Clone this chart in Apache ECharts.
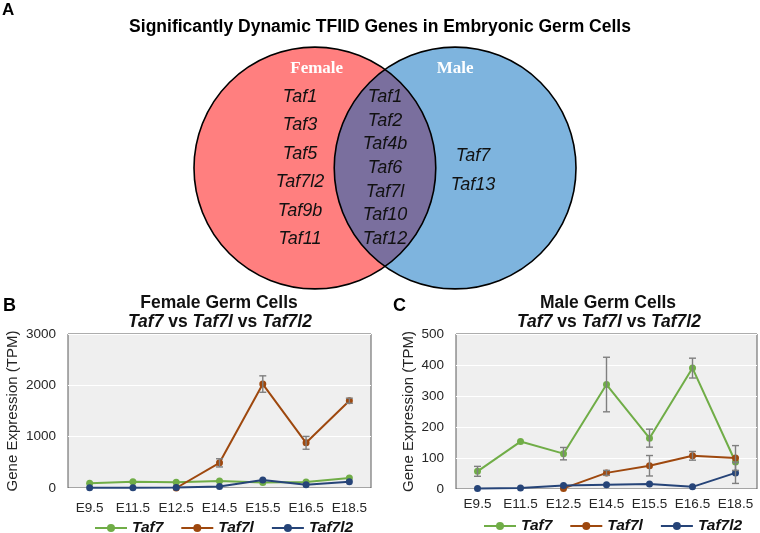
<!DOCTYPE html>
<html>
<head>
<meta charset="utf-8">
<script src="https://cdn.jsdelivr.net/npm/echarts@6/dist/echarts.min.js"></script>
<style>
html,body{margin:0;padding:0;background:#fff;}
#chart{width:760px;height:533px;}
</style>
</head>
<body>
<div id="chart"></div>
<script>
// ---------- DATA ----------
const vennTitle = 'Significantly Dynamic TFIID Genes in Embryonic Germ Cells';
const setNames = ['Female', 'Male'];
const femaleOnlyGenes = ['Taf1', 'Taf3', 'Taf5', 'Taf7l2', 'Taf9b', 'Taf11'];
const sharedGenes = ['Taf1', 'Taf2', 'Taf4b', 'Taf6', 'Taf7l', 'Taf10', 'Taf12'];
const maleOnlyGenes = ['Taf7', 'Taf13'];

const timepoints = ['E9.5', 'E11.5', 'E12.5', 'E14.5', 'E15.5', 'E16.5', 'E18.5'];
const geneNames = ['Taf7', 'Taf7l', 'Taf7l2'];

const femaleTaf7 = [92, 123, 111, 136, 105, 117, 195];
const femaleTaf7l = [null, null, 0, 490, 2025, 880, 1700];
const femaleTaf7l2 = [6, 6, 12, 30, 156, 65, 123];
const femaleTaf7Err = [null, null, null, null, null, null, null];
const femaleTaf7lErr = [null, null, null, 80, 160, 125, 50];
const femaleTaf7l2Err = [null, null, null, null, null, null, null];

const maleTaf7 = [57, 153, 114, 337, 164, 390, 87];
const maleTaf7l = [null, null, 2, 52, 75, 107, 100];
const maleTaf7l2 = [2, 3, 11, 14, 16, 7, 52];
const maleTaf7Err = [16, null, 20, 88, 29, 32, null];
const maleTaf7lErr = [null, null, null, 8, 33, 14, 40];
const maleTaf7l2Err = [null, null, null, null, null, null, 34];

const femaleYTicks = [0, 1000, 2000, 3000];
const maleYTicks = [0, 100, 200, 300, 400, 500];

// ---------- STYLE / LAYOUT ----------
const FONT = '"Liberation Sans", Arial, sans-serif';
const SERIF = '"Liberation Serif", "Times New Roman", serif';
const lineColors = ['#70AD47', '#9E480E', '#264478'];
const vennFill = ['#FF7F7F', '#7EB4DE'];
const lensFill = '#7A6F9E';
const halfSep = 0.58; // circle centre offset in radius units
const txtDark = '#262626';

const chart = echarts.init(document.getElementById('chart'), null, {renderer: 'canvas'});

function errData(vals, errs) {
  const out = [];
  vals.forEach((v, i) => { if (errs[i] != null && v != null) out.push([i, v, errs[i]]); });
  return out;
}
function errRender(params, api) {
  const x = api.value(0), v = api.value(1), e = api.value(2);
  const t = api.coord([x, v + e]);
  const b = api.coord([x, v - e]);
  const hw = 3.5;
  const st = {stroke: '#7F7F7F', lineWidth: 1.4};
  return {type: 'group', children: [
    {type: 'line', shape: {x1: t[0], y1: t[1], x2: b[0], y2: b[1]}, style: st},
    {type: 'line', shape: {x1: t[0] - hw, y1: t[1], x2: t[0] + hw, y2: t[1]}, style: st},
    {type: 'line', shape: {x1: b[0] - hw, y1: b[1], x2: b[0] + hw, y2: b[1]}, style: st}
  ]};
}
function lineSeries(name, idx, data, gi) {
  return {
    type: 'line', name: name, data: data, xAxisIndex: gi, yAxisIndex: gi,
    symbol: 'circle', symbolSize: 7, showAllSymbol: true,
    lineStyle: {color: lineColors[idx], width: 2},
    itemStyle: {color: lineColors[idx]},
    z: 3 + idx, animation: false
  };
}
function errSeries(vals, errs, gi) {
  return {
    type: 'custom', xAxisIndex: gi, yAxisIndex: gi, renderItem: errRender,
    data: errData(vals, errs), encode: {x: 0, y: 1}, z: 10, animation: false, silent: true
  };
}

// Venn label points
function rowsFor(list, x, spacing, offset) {
  const n = list.length;
  return list.map((g, i) => ({x: x, y: offset + (n - 1) / 2 * spacing - i * spacing, text: g}));
}
const vennLabels = [].concat(
  rowsFor(femaleOnlyGenes, -0.703, 0.235, 0),
  rowsFor(sharedGenes, 0.0, 0.196, 0),
  rowsFor(maleOnlyGenes, 0.728, 0.24, -0.02)
);
const setLabelPos = [[-0.565, 0.82], [0.58, 0.82]];

const axisBase = (gi, margin) => ({
  gridIndex: gi, type: 'category', data: timepoints,
  axisLine: {show: false}, axisTick: {show: false},
  axisLabel: {color: txtDark, fontSize: 13.5, fontFamily: FONT, margin: margin, interval: 0}
});
const yBase = (gi, ticks) => ({
  gridIndex: gi, type: 'value', min: ticks[0], max: ticks[ticks.length - 1],
  interval: ticks[1] - ticks[0],
  name: 'Gene Expression (TPM)', nameLocation: 'middle', nameRotate: 90,
  nameTextStyle: {fontSize: 15, fontFamily: FONT, color: txtDark},
  axisLine: {show: false}, axisTick: {show: false},
  splitLine: {lineStyle: {color: '#FFFFFF', width: 1.2}},
  axisLabel: {color: txtDark, fontSize: 13.5, fontFamily: FONT, margin: 12, formatter: v => String(v)}
});

const subRich = {
  i: {fontSize: 17.5, fontWeight: 'bold', fontStyle: 'italic', fontFamily: FONT, fill: '#111'},
  n: {fontSize: 17.5, fontWeight: 'bold', fontFamily: FONT, fill: '#111'}
};
const subText = '{i|' + geneNames[0] + '}{n| vs }{i|' + geneNames[1] + '}{n| vs }{i|' + geneNames[2] + '}';
const legendText = {fontSize: 15.5, fontWeight: 'bold', fontStyle: 'italic', fontFamily: FONT, color: '#111'};

const option = {
  animation: false,
  grid: [
    {left: 194, top: 47, width: 382, height: 242, show: false},
    {left: 68, top: 334, width: 303, height: 154, show: true, backgroundColor: '#EFEFEF', borderColor: '#5A5A5A', borderWidth: 1},
    {left: 456, top: 334, width: 301, height: 155, show: true, backgroundColor: '#EFEFEF', borderColor: '#5A5A5A', borderWidth: 1}
  ],
  xAxis: [
    {gridIndex: 0, type: 'value', min: -1.58, max: 1.58, show: false},
    axisBase(1, 13), axisBase(2, 8)
  ],
  yAxis: [
    {gridIndex: 0, type: 'value', min: -1, max: 1, show: false},
    Object.assign(yBase(1, femaleYTicks), {nameGap: 48}),
    Object.assign(yBase(2, maleYTicks), {nameGap: 40})
  ],
  legend: [
    {data: geneNames, left: 94, top: 520, padding: 0, itemWidth: 32, itemHeight: 10, itemGap: 17, textStyle: legendText},
    {data: geneNames, left: 483, top: 518, padding: 0, itemWidth: 32, itemHeight: 10, itemGap: 17, textStyle: legendText}
  ],
  graphic: [
    {type: 'text', x: 2, y: 10, style: {text: 'A', font: 'bold 17px ' + FONT, fill: '#000', textVerticalAlign: 'middle'}},
    {type: 'text', x: 380, y: 27, style: {text: vennTitle, font: 'bold 17.5px ' + FONT, fill: '#000', textAlign: 'center', textVerticalAlign: 'middle'}},
    {type: 'text', x: 3, y: 306, style: {text: 'B', font: 'bold 18px ' + FONT, fill: '#000', textVerticalAlign: 'middle'}},
    {type: 'text', x: 393, y: 306, style: {text: 'C', font: 'bold 18px ' + FONT, fill: '#000', textVerticalAlign: 'middle'}},
    {type: 'text', x: 219, y: 303, style: {text: 'Female Germ Cells', font: 'bold 17.5px ' + FONT, fill: '#111', textAlign: 'center', textVerticalAlign: 'middle'}},
    {type: 'text', x: 220, y: 322, style: {text: subText, rich: subRich, textAlign: 'center', textVerticalAlign: 'middle'}},
    {type: 'text', x: 608, y: 303, style: {text: 'Male Germ Cells', font: 'bold 17.5px ' + FONT, fill: '#111', textAlign: 'center', textVerticalAlign: 'middle'}},
    {type: 'text', x: 609, y: 322, style: {text: subText, rich: subRich, textAlign: 'center', textVerticalAlign: 'middle'}}
  ],
  series: [
    // Venn fills
    {type: 'custom', xAxisIndex: 0, yAxisIndex: 0, z: 1, silent: true,
     data: [[-halfSep, 0], [halfSep, 0]],
     renderItem: function (params, api) {
       const c = api.coord([api.value(0), api.value(1)]);
       const r = api.size([1, 0])[0];
       return {type: 'circle', shape: {cx: c[0], cy: c[1], r: r}, style: {fill: vennFill[params.dataIndex], stroke: null}};
     }},
    // Lens (intersection)
    {type: 'custom', xAxisIndex: 0, yAxisIndex: 0, z: 2, silent: true,
     data: [[0, 0]],
     renderItem: function (params, api) {
       const h = Math.sqrt(1 - halfSep * halfSep);
       const p1 = api.coord([0, h]);
       const p2 = api.coord([0, -h]);
       const r = api.size([1, 0])[0];
       const d = 'M' + p1[0] + ' ' + p1[1] + ' A' + r + ' ' + r + ' 0 0 1 ' + p2[0] + ' ' + p2[1] +
                 ' A' + r + ' ' + r + ' 0 0 1 ' + p1[0] + ' ' + p1[1] + ' Z';
       return {type: 'path', shape: {pathData: d}, style: {fill: lensFill, stroke: null}};
     }},
    // Venn outlines
    {type: 'custom', xAxisIndex: 0, yAxisIndex: 0, z: 3, silent: true,
     data: [[-halfSep, 0], [halfSep, 0]],
     renderItem: function (params, api) {
       const c = api.coord([api.value(0), api.value(1)]);
       const r = api.size([1, 0])[0];
       return {type: 'circle', shape: {cx: c[0], cy: c[1], r: r}, style: {fill: null, stroke: '#000', lineWidth: 1.6}};
     }},
    // Set names
    {type: 'custom', xAxisIndex: 0, yAxisIndex: 0, z: 4, silent: true,
     data: setLabelPos,
     renderItem: function (params, api) {
       const c = api.coord([api.value(0), api.value(1)]);
       return {type: 'text', x: c[0], y: c[1], style: {text: setNames[params.dataIndex], font: 'bold 17px ' + SERIF, fill: '#FFFFFF', textAlign: 'center', textVerticalAlign: 'middle'}};
     }},
    // Gene names
    {type: 'custom', xAxisIndex: 0, yAxisIndex: 0, z: 4, silent: true,
     data: vennLabels.map(d => [d.x, d.y]),
     renderItem: function (params, api) {
       const c = api.coord([api.value(0), api.value(1)]);
       return {type: 'text', x: c[0], y: c[1], style: {text: vennLabels[params.dataIndex].text, font: 'italic 18px ' + FONT, fill: '#111', textAlign: 'center', textVerticalAlign: 'middle'}};
     }},
    // Female
    lineSeries(geneNames[0], 0, femaleTaf7, 1),
    lineSeries(geneNames[1], 1, femaleTaf7l, 1),
    lineSeries(geneNames[2], 2, femaleTaf7l2, 1),
    errSeries(femaleTaf7, femaleTaf7Err, 1),
    errSeries(femaleTaf7l, femaleTaf7lErr, 1),
    errSeries(femaleTaf7l2, femaleTaf7l2Err, 1),
    // Male
    lineSeries(geneNames[0], 0, maleTaf7, 2),
    lineSeries(geneNames[1], 1, maleTaf7l, 2),
    lineSeries(geneNames[2], 2, maleTaf7l2, 2),
    errSeries(maleTaf7, maleTaf7Err, 2),
    errSeries(maleTaf7l, maleTaf7lErr, 2),
    errSeries(maleTaf7l2, maleTaf7l2Err, 2)
  ]
};
chart.setOption(option);
</script>
</body>
</html>
